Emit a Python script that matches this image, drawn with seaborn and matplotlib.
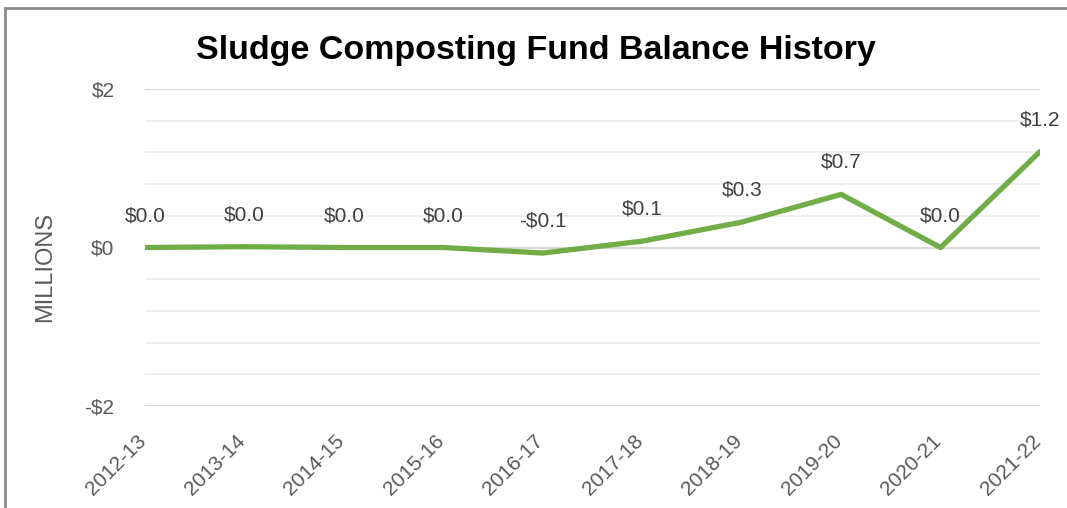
import matplotlib
matplotlib.use("Agg")
import matplotlib.pyplot as plt
import matplotlib.transforms as mtransforms
import numpy as np
import pandas as pd
import seaborn as sns
from matplotlib.patches import Rectangle

years = ["2012-13", "2013-14", "2014-15", "2015-16", "2016-17",
         "2017-18", "2018-19", "2019-20", "2020-21", "2021-22"]
balance = [0.0, 0.01, 0.0, 0.0, -0.07, 0.08, 0.32, 0.67, 0.0, 1.21]
y_ticks = [-2, 0, 2]
y_tick_labels = ["-$2", "$0", "$2"]
y_minor = [-1.6, -1.2, -0.8, -0.4, 0.4, 0.8, 1.2, 1.6]

sns.set_style("white")
FONT = ["Liberation Sans Narrow", "Liberation Sans", "DejaVu Sans"]
plt.rcParams["font.family"] = FONT

df = pd.DataFrame({"year": years, "balance": balance, "x": np.arange(len(years))})

fig = plt.figure(figsize=(10.67, 5.08), dpi=100)
ax = fig.add_axes([145 / 1067, 1 - 406 / 508, (1040 - 145) / 1067, (406 - 89) / 508])

for y in y_minor:
    ax.axhline(y, color="#EDEDED", lw=1.3, zorder=0)
for y in y_ticks:
    ax.axhline(y, color="#D9D9D9", lw=1.5, zorder=0)

sns.lineplot(data=df, x="x", y="balance", color="#70AD47", linewidth=3.8, ax=ax,
             zorder=3)

for xi, v in zip(df["x"], df["balance"]):
    r = round(v, 1)
    lab = ("-$%.1f" % abs(r)) if r < 0 else ("$%.1f" % abs(r))
    ax.annotate(lab, (xi, v), xytext=(0, 23), textcoords="offset points",
                ha="center", va="center", fontsize=15, color="#404040")

ax.set_xlim(0, len(years) - 1)
ax.set_ylim(-2, 2)
ax.set_xticks(df["x"])
ax.set_xticklabels(years, rotation=45, ha="right", rotation_mode="anchor",
                   fontsize=15, color="#595959")
ax.set_yticks(y_ticks)
ax.set_yticklabels(y_tick_labels, fontsize=15, color="#595959")
ax.tick_params(axis="x", length=0, pad=18)
ax.tick_params(axis="y", length=0, pad=22)
# nudge rotated year labels so their right tip sits on the tick
shift = mtransforms.ScaledTranslation(-9 / 100, 0, fig.dpi_scale_trans)
for lbl in ax.get_xticklabels():
    lbl.set_transform(lbl.get_transform() + shift)
for s in ax.spines.values():
    s.set_visible(False)
ax.set_xlabel("")
ax.set_ylabel("MILLIONS", fontsize=17, color="#595959")
ax.yaxis.set_label_coords(-89 / 895, 0.44)

fig.text(536 / 1067, 1 - 50 / 508, "Sludge Composting Fund Balance History",
         ha="center", va="center", fontsize=24.5, fontweight="bold", color="black")

fig.patches.append(Rectangle((5 / 1067, -0.1), 1.2, 1 - 8 / 508 + 0.1,
                             transform=fig.transFigure, fill=False,
                             edgecolor="#8C8C8C", lw=2))

fig.savefig("out.png", dpi=100)
